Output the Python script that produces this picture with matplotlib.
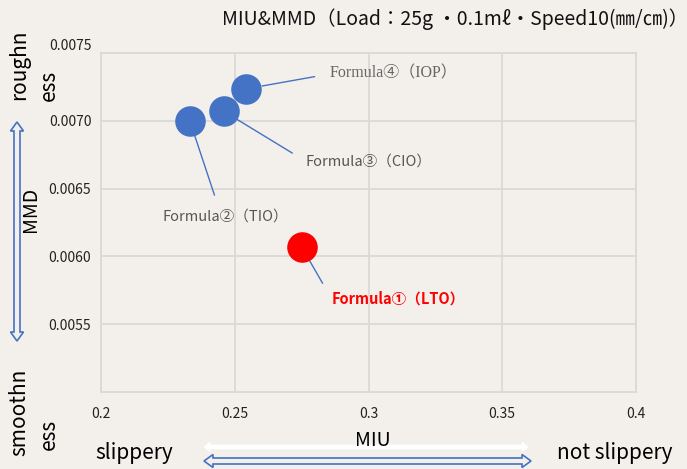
import matplotlib
matplotlib.use("Agg")
import matplotlib.pyplot as plt
from matplotlib.patches import Polygon
import numpy as np

plt.rcParams['font.family'] = ['Noto Sans CJK JP', 'DejaVu Sans']

BG = '#f3f0ec'
BLUE = '#4472c4'

miu = [0.275, 0.2332, 0.2459, 0.2541]
mmd = [0.00607, 0.00700, 0.00707, 0.007235]
colors = ['#ff0000', BLUE, BLUE, BLUE]
ann_txt = ['Formula①（LTO）', 'Formula②（TIO）', 'Formula③（CIO）', 'Formula④（IOP）']
xticks = [0.2, 0.25, 0.3, 0.35, 0.4]
xtick_labels = ['0.2', '0.25', '0.3', '0.35', '0.4']
yticks = [0.0055, 0.0060, 0.0065, 0.0070, 0.0075]
ytick_labels = ['0.0055', '0.0060', '0.0065', '0.0070', '0.0075']

W, H = 687, 469
fig = plt.figure(figsize=(W/100, H/100), dpi=100, facecolor=BG)
ax = fig.add_axes([101/W, 1-392/H, (636-101)/W, (392-53)/H], facecolor=BG)
ax.set_xlim(0.2, 0.4)
ax.set_ylim(0.005, 0.0075)
ax.set_xticks(xticks)
ax.set_xticklabels(xtick_labels)
ax.set_yticks(yticks)
ax.set_yticklabels(ytick_labels)
ax.tick_params(length=0, labelsize=10, labelcolor='#222222')
ax.tick_params(axis='x', pad=11)
ax.tick_params(axis='y', pad=7)
ax.grid(True, color='#d9d9d9', linewidth=1.3)
ax.set_axisbelow(True)
for s in ax.spines.values():
    s.set_color('#d9d9d9')
    s.set_linewidth(1.3)
ax.get_yticklabels()[-1].set_va('bottom')

for x, y, c in zip(miu, mmd, colors):
    ax.plot(x, y, marker='o', markersize=22, color=c, markeredgewidth=0,
            linestyle='none', zorder=5)

ann_off = [(30, -52), (-27, -96), (82, -50), (84, 15)]
ann_rel = [(0, 0.5), (0.45, 1.0), (0, 0.5), (0, 0.5)]
ann_shrinkB = [5, 7, 6, 12]
ann_style = [dict(color='#ff0000', fontweight='bold', fontsize=10.5),
             dict(color='#555555', fontsize=10.5),
             dict(color='#555555', fontsize=10.5),
             dict(color='#666666', fontsize=11.5)]
ann_fam = [['Noto Sans CJK JP', 'DejaVu Sans']] * 3 + [['Liberation Serif', 'Noto Sans CJK JP']]
for i in range(4):
    ax.annotate(ann_txt[i], (miu[i], mmd[i]), xytext=ann_off[i], textcoords='offset pixels',
                ha='left', va='center', family=ann_fam[i],
                arrowprops=dict(arrowstyle='-', color=BLUE, lw=1,
                                shrinkA=9, shrinkB=ann_shrinkB[i], relpos=ann_rel[i]),
                zorder=4, **ann_style[i])

fig.text(222/W, 1-19/H, 'MIU&MMD（Load：25g ・0.1mℓ・Speed10(㎜/㎝)）',
         ha='left', va='center', fontsize=14, color='#111111')

fig.text(19/W, 1-65/H, 'roughn', rotation=90, ha='center', va='center', fontsize=15)
fig.text(49/W, 1-85/H, 'ess', rotation=90, ha='center', va='center', fontsize=15)
fig.text(19/W, 1-412/H, 'smoothn', rotation=90, ha='center', va='center', fontsize=15)
fig.text(49/W, 1-434/H, 'ess', rotation=90, ha='center', va='center', fontsize=15)
fig.text(31/W, 1-209/H, 'MMD', rotation=90, ha='center', va='center', fontsize=14)

fig.text(134/W, 1-453/H, 'slippery', ha='center', va='center', fontsize=15)
fig.text(615/W, 1-453/H, 'not slippery', ha='center', va='center', fontsize=15)
fig.text(373/W, 1-440/H, 'MIU', ha='center', va='center', fontsize=14, zorder=3)


def hollow(p1, p2, fc=BG, ec=BLUE, lw=1.2, tw=3, hw=6.5, hl=9):
    p1 = np.array(p1, float); p2 = np.array(p2, float)
    d = p2 - p1; L = np.hypot(*d); u = d / L; n = np.array([-u[1], u[0]])
    pts = [p1,
           p1 + u*hl + n*hw, p1 + u*hl + n*tw,
           p2 - u*hl + n*tw, p2 - u*hl + n*hw,
           p2,
           p2 - u*hl - n*hw, p2 - u*hl - n*tw,
           p1 + u*hl - n*tw, p1 + u*hl - n*hw]
    pts = np.array([(x/W, 1-y/H) for x, y in pts])
    poly = Polygon(pts, closed=True, transform=fig.transFigure,
                   facecolor=fc, edgecolor=ec, lw=lw, zorder=1)
    fig.add_artist(poly)

hollow((17, 122), (17, 341))
hollow((204, 447), (528, 447), fc='white', ec='white', lw=0.5, tw=2, hw=5, hl=6)
hollow((204, 461), (531, 461))

fig.savefig('out.png', dpi=100, facecolor=BG)
